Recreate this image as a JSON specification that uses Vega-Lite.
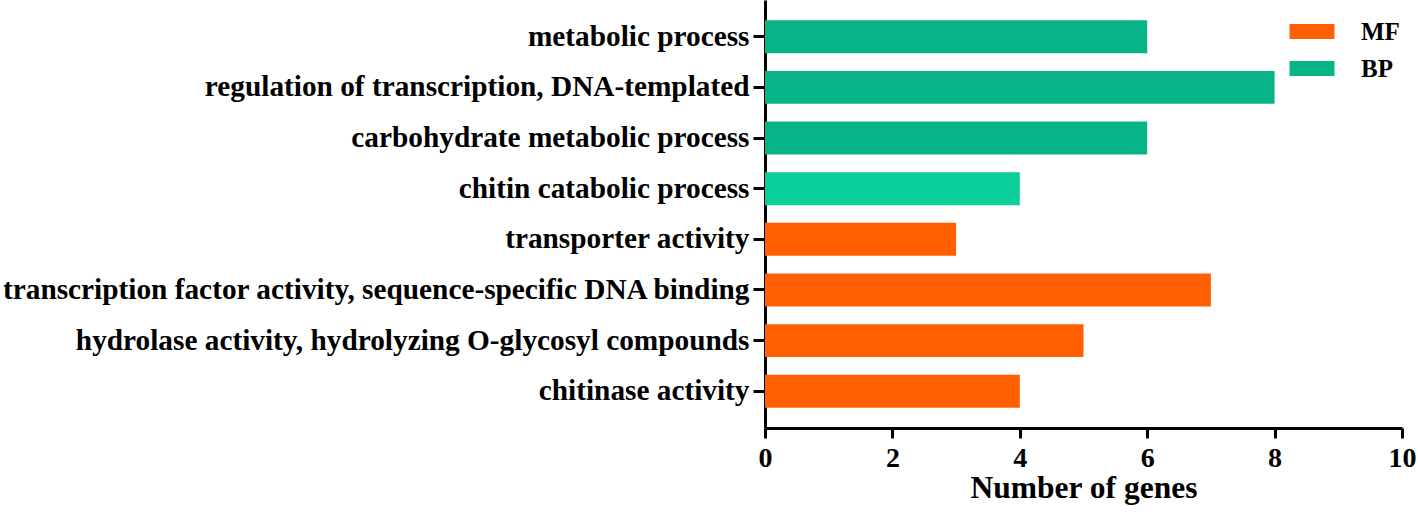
{
  "$schema": "https://vega.github.io/schema/vega-lite/v6.json",
  "autosize": "none",
  "width": 637,
  "height": 428,
  "padding": {"left": 765, "top": 0, "right": 16, "bottom": 84},
  "background": "white",
  "config": {
    "view": {"stroke": null},
    "font": "Liberation Serif",
    "axis": {"grid": false, "domainColor": "black", "tickColor": "black", "labelColor": "black", "titleColor": "black", "domainWidth": 3, "tickWidth": 3, "labelFontWeight": "bold", "titleFontWeight": "bold", "labelFont": "Liberation Serif", "titleFont": "Liberation Serif"}
  },
  "data": {
    "values": [
      {"term": "metabolic process", "genes": 6, "category": "BP", "tone": "BP"},
      {"term": "regulation of transcription, DNA-templated", "genes": 8, "category": "BP", "tone": "BP"},
      {"term": "carbohydrate metabolic process", "genes": 6, "category": "BP", "tone": "BP"},
      {"term": "chitin catabolic process", "genes": 4, "category": "BP", "tone": "BP light"},
      {"term": "transporter activity", "genes": 3, "category": "MF", "tone": "MF"},
      {"term": "transcription factor activity, sequence-specific DNA binding", "genes": 7, "category": "MF", "tone": "MF"},
      {"term": "hydrolase activity, hydrolyzing O-glycosyl compounds", "genes": 5, "category": "MF", "tone": "MF"},
      {"term": "chitinase activity", "genes": 4, "category": "MF", "tone": "MF"}
    ]
  },
  "mark": {"type": "bar"},
  "encoding": {
    "y": {
      "field": "term", "type": "nominal", "sort": null,
      "scale": {"paddingInner": 0.35, "paddingOuter": 0.4},
      "axis": {"title": null, "labelFontSize": 29.3, "labelLimit": 800, "tickSize": 12, "labelPadding": 4, "domainWidth": 3}
    },
    "x": {
      "field": "genes", "type": "quantitative",
      "scale": {"domain": [0, 10], "nice": false},
      "axis": {"title": "Number of genes", "values": [0, 2, 4, 6, 8, 10], "labelFontSize": 28, "titleFontSize": 31.5, "tickSize": 10, "labelPadding": 6, "titlePadding": 0, "labelFlush": false}
    },
    "color": {
      "field": "tone", "type": "nominal",
      "scale": {"domain": ["MF", "BP", "BP light"], "range": ["#FF5F00", "#08B388", "#0ACF9B"]},
      "legend": {
        "values": ["MF", "BP"], "title": null, "orient": "none", "legendX": 529, "legendY": 13.5,
        "symbolType": "M-1.25,-0.42H1.25V0.42H-1.25Z", "symbolSize": 1296, "symbolStrokeWidth": 0,
        "labelFontSize": 25, "labelFontWeight": "bold", "labelFont": "Liberation Serif", "labelColor": "black",
        "labelOffset": 31, "rowPadding": 6
      }
    }
  }
}
